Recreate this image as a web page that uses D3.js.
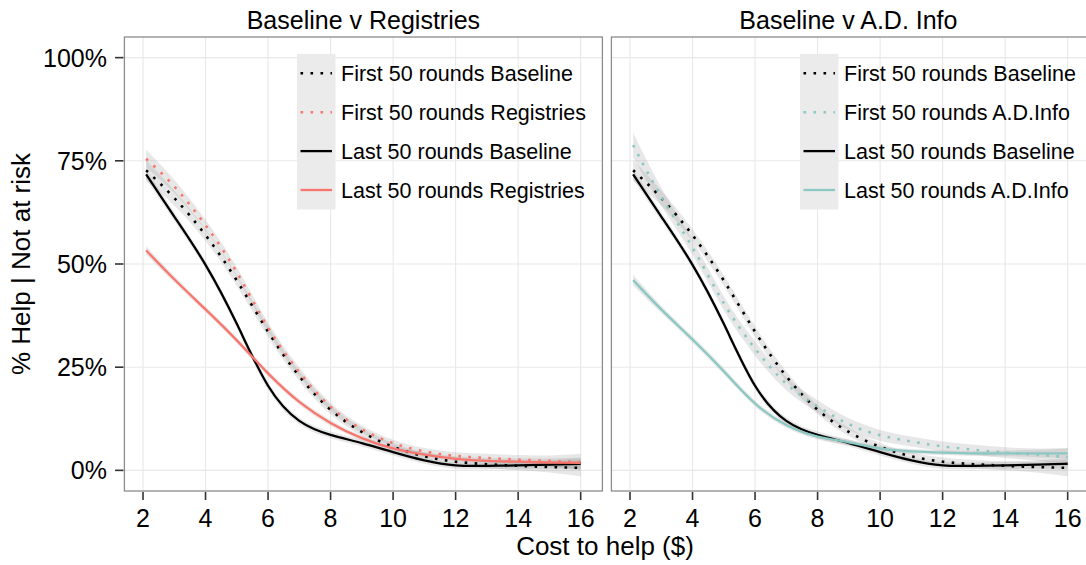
<!DOCTYPE html>
<html>
<head>
<meta charset="utf-8">
<script src="https://cdnjs.cloudflare.com/ajax/libs/d3/7.8.5/d3.min.js"></script>
<style>
  html, body { margin: 0; padding: 0; background: #fff; }
  svg { display: block; font-family: "Liberation Sans", Arial, Helvetica, sans-serif; }
</style>
</head>
<body>
<svg id="chart" width="1086" height="565"></svg>
<script>
// Smoothed share of helping vs. cost, by phase and treatment
const costs = [2.1, 3, 4, 5, 6, 7, 8, 9, 10, 11, 12, 13, 14, 15, 16];

const firstBaseline   = [0.727, 0.660, 0.570, 0.460, 0.336, 0.228, 0.147, 0.093, 0.057, 0.034, 0.021, 0.015, 0.011, 0.008, 0.006];
const lastBaseline    = [0.717, 0.615, 0.498, 0.355, 0.205, 0.120, 0.086, 0.066, 0.044, 0.024, 0.012, 0.011, 0.012, 0.014, 0.016];
const firstRegistries = [0.755, 0.688, 0.594, 0.480, 0.346, 0.238, 0.154, 0.100, 0.066, 0.046, 0.035, 0.030, 0.026, 0.023, 0.020];
const lastRegistries  = [0.533, 0.463, 0.390, 0.315, 0.235, 0.166, 0.115, 0.078, 0.053, 0.038, 0.028, 0.023, 0.021, 0.019, 0.018];
const firstADInfo     = [0.788, 0.663, 0.540, 0.405, 0.295, 0.210, 0.155, 0.112, 0.085, 0.070, 0.058, 0.050, 0.043, 0.038, 0.032];
const lastADInfo      = [0.461, 0.390, 0.317, 0.240, 0.162, 0.110, 0.082, 0.068, 0.053, 0.046, 0.043, 0.041, 0.041, 0.041, 0.041];

// Half-widths of the confidence bands around each smooth
const firstBaselineCI   = [0.025, 0.018, 0.014, 0.013, 0.013, 0.012, 0.011, 0.010, 0.009, 0.009, 0.010, 0.010, 0.011, 0.013, 0.020];
const lastBaselineCI    = [0.012, 0.010, 0.009, 0.009, 0.009, 0.008, 0.008, 0.008, 0.008, 0.008, 0.008, 0.008, 0.009, 0.010, 0.014];
const firstRegistriesCI = [0.022, 0.016, 0.013, 0.012, 0.012, 0.011, 0.010, 0.009, 0.008, 0.008, 0.009, 0.010, 0.011, 0.013, 0.020];
const lastRegistriesCI  = [0.010, 0.008, 0.007, 0.007, 0.007, 0.007, 0.007, 0.006, 0.006, 0.006, 0.006, 0.007, 0.008, 0.010, 0.013];
const firstADInfoCI     = [0.030, 0.022, 0.018, 0.017, 0.017, 0.016, 0.015, 0.014, 0.013, 0.012, 0.012, 0.012, 0.013, 0.015, 0.022];
const lastADInfoCI      = [0.013, 0.009, 0.008, 0.008, 0.007, 0.007, 0.007, 0.007, 0.006, 0.006, 0.006, 0.006, 0.007, 0.009, 0.012];

const panelTitles = ["Baseline v Registries", "Baseline v A.D. Info"];
const xTicks = [2, 4, 6, 8, 10, 12, 14, 16];
const yTicks = [0, 0.25, 0.5, 0.75, 1];
const xTitle = "Cost to help ($)";
const yTitle = "% Help | Not at risk";

const RED = "#F8766D", TEAL = "#8BC8C3", BLACK = "#000000";

const panels = [
  {
    title: panelTitles[0], x0: 124.4, legendOffset: 172.6,
    series: [
      { name: "First 50 rounds Baseline",   values: firstBaseline,   ci: firstBaselineCI,   color: BLACK, dotted: true },
      { name: "First 50 rounds Registries", values: firstRegistries, ci: firstRegistriesCI, color: RED,   dotted: true },
      { name: "Last 50 rounds Baseline",    values: lastBaseline,    ci: lastBaselineCI,    color: BLACK, dotted: false },
      { name: "Last 50 rounds Registries",  values: lastRegistries,  ci: lastRegistriesCI,  color: RED,   dotted: false }
    ]
  },
  {
    title: panelTitles[1], x0: 611.4, legendOffset: 188.6,
    series: [
      { name: "First 50 rounds Baseline", values: firstBaseline, ci: firstBaselineCI, color: BLACK, dotted: true },
      { name: "First 50 rounds A.D.Info", values: firstADInfo,   ci: firstADInfoCI,   color: TEAL,  dotted: true },
      { name: "Last 50 rounds Baseline",  values: lastBaseline,  ci: lastBaselineCI,  color: BLACK, dotted: false },
      { name: "Last 50 rounds A.D.Info",  values: lastADInfo,    ci: lastADInfoCI,    color: TEAL,  dotted: false }
    ]
  }
];

const svg = d3.select("#chart");
const panelW = 478, panelTop = 37, panelBottom = 491;
const DOT = "2.6 7.4";

const y = d3.scaleLinear().domain([-0.05, 1.05]).range([panelBottom, panelTop]);

panels.forEach((p, pi) => {
  const x = d3.scaleLinear().domain([1.405, 16.695]).range([p.x0, p.x0 + panelW]);
  const g = svg.append("g");

  const clipId = "clip" + pi;
  svg.append("clipPath").attr("id", clipId)
    .append("rect").attr("x", p.x0).attr("y", panelTop).attr("width", panelW).attr("height", panelBottom - panelTop);

  // grid
  g.selectAll(".gx").data(xTicks).join("line")
    .attr("x1", d => x(d)).attr("x2", d => x(d)).attr("y1", panelTop).attr("y2", panelBottom)
    .attr("stroke", "#e8e8e8").attr("stroke-width", 1.1);
  g.selectAll(".gy").data(yTicks).join("line")
    .attr("x1", p.x0).attr("x2", p.x0 + panelW).attr("y1", d => y(d)).attr("y2", d => y(d))
    .attr("stroke", "#e8e8e8").attr("stroke-width", 1.1);

  // legend key background
  const lx = p.x0 + p.legendOffset, rowH = 38.9, ly0 = 73.3;
  g.append("rect").attr("x", lx).attr("y", ly0 - rowH / 2).attr("width", 38.5).attr("height", rowH * 4)
    .attr("fill", "#ebebeb");

  const plot = g.append("g").attr("clip-path", `url(#${clipId})`);

  const area = d3.area().curve(d3.curveNatural)
    .x((d, i) => x(costs[i]))
    .y0(d => y(d.v - d.c)).y1(d => y(d.v + d.c));
  const line = d3.line().curve(d3.curveNatural)
    .x((d, i) => x(costs[i])).y(d => y(d));

  // confidence bands
  p.series.forEach(s => {
    const pts = s.values.map((v, i) => ({ v, c: s.ci[i] }));
    plot.append("path").attr("d", area(pts)).attr("fill", "#999").attr("fill-opacity", 0.24);
  });
  // smooth lines
  p.series.forEach(s => {
    plot.append("path").attr("d", line(s.values))
      .attr("fill", "none").attr("stroke", s.color)
      .attr("stroke-width", s.dotted ? 2.6 : 2.3)
      .attr("stroke-dasharray", s.dotted ? DOT : null);
  });

  // panel border
  g.append("rect").attr("x", p.x0).attr("y", panelTop).attr("width", panelW).attr("height", panelBottom - panelTop)
    .attr("fill", "none").attr("stroke", "#8c8c8c").attr("stroke-width", 1.3);

  // strip title
  g.append("text").attr("x", p.x0 + panelW / 2 - (pi === 1 ? 2 : 0)).attr("y", 29)
    .attr("text-anchor", "middle").attr("font-size", 25).attr("fill", "#000").text(p.title);

  // x axis
  const xa = g.append("g");
  xa.selectAll("line").data(xTicks).join("line")
    .attr("x1", d => x(d)).attr("x2", d => x(d)).attr("y1", panelBottom + 1).attr("y2", panelBottom + 9)
    .attr("stroke", "#333").attr("stroke-width", 1.6);
  xa.selectAll("text").data(xTicks).join("text")
    .attr("x", d => x(d)).attr("y", 527).attr("text-anchor", "middle")
    .attr("font-size", 25).attr("fill", "#000").text(d => d);

  // legend
  p.series.forEach((s, k) => {
    const yy = ly0 + k * rowH;
    g.append("line").attr("x1", lx + 3.5).attr("x2", lx + 35).attr("y1", yy).attr("y2", yy)
      .attr("stroke", s.color).attr("stroke-width", s.dotted ? 2.6 : 2.3)
      .attr("stroke-dasharray", s.dotted ? DOT : null);
    g.append("text").attr("x", lx + 44).attr("y", yy + 7.5)
      .attr("font-size", 21.5).attr("fill", "#000").text(s.name);
  });
});

// y axis (left panel only)
const ya = svg.append("g");
ya.selectAll("line").data(yTicks).join("line")
  .attr("x1", 115).attr("x2", 123.5).attr("y1", d => y(d)).attr("y2", d => y(d))
  .attr("stroke", "#333").attr("stroke-width", 1.6);
ya.selectAll("text").data(yTicks).join("text")
  .attr("x", 107).attr("y", d => y(d) + 9).attr("text-anchor", "end")
  .attr("font-size", 25).attr("fill", "#000").text(d => d3.format(".0%")(d));

// axis titles
svg.append("text").attr("x", 605).attr("y", 555).attr("text-anchor", "middle")
  .attr("font-size", 26).attr("fill", "#000").text(xTitle);
svg.append("text").attr("transform", "translate(30,264) rotate(-90)")
  .attr("text-anchor", "middle").attr("font-size", 26).attr("fill", "#000").text(yTitle);
</script>
</body>
</html>
